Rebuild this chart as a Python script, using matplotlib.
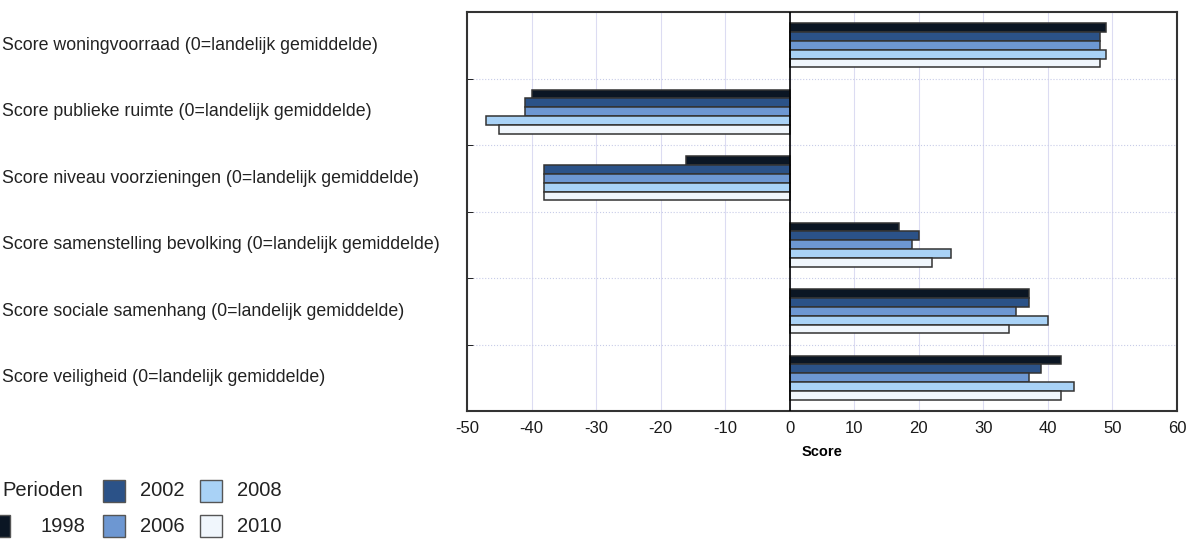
import matplotlib.pyplot as plt
import numpy as np
from matplotlib.patches import Rectangle

plt.rcParams['font.family'] = ['Liberation Sans', 'DejaVu Sans']
plt.rcParams['axes.unicode_minus'] = False

categories = [
    "Score woningvoorraad (0=landelijk gemiddelde)",
    "Score publieke ruimte (0=landelijk gemiddelde)",
    "Score niveau voorzieningen (0=landelijk gemiddelde)",
    "Score samenstelling bevolking (0=landelijk gemiddelde)",
    "Score sociale samenhang (0=landelijk gemiddelde)",
    "Score veiligheid (0=landelijk gemiddelde)",
]
periods = ["1998", "2002", "2006", "2008", "2010"]
v1998 = [49, -40, -16, 17, 37, 42]
v2002 = [48, -41, -38, 20, 37, 39]
v2006 = [48, -41, -38, 19, 35, 37]
v2008 = [49, -47, -38, 25, 40, 44]
v2010 = [48, -45, -38, 22, 34, 42]
series = [v1998, v2002, v2006, v2008, v2010]
colors = ['#0b1624', '#2b5288', '#6d97d2', '#a9d2f6', '#f0f6fc']

fig = plt.figure(figsize=(11.88, 5.39), dpi=100)
ax = fig.add_axes([467/1188, 1 - 411/539, 710/1188, 399/539])

n = len(categories)
ypos = np.arange(n)
bh = 0.133
for i, (vals, c) in enumerate(zip(series, colors)):
    offs = (i - 2) * bh
    ax.barh(ypos + offs, vals, height=bh, color=c, edgecolor='#333333',
            linewidth=1.1, zorder=3)

ax.axvline(0, color='black', linewidth=1.2, zorder=4)
ax.set_xlim(-50, 60)
ax.set_ylim(n - 0.5, -0.5)
ax.set_xticks(np.arange(-50, 61, 10))
ax.tick_params(axis='x', labelsize=12, length=0, pad=7, labelcolor='#1a1a1a')
ax.set_yticks(np.arange(0.5, n - 0.5, 1), minor=True)
ax.set_yticks([])
ax.tick_params(axis='y', which='minor', length=4, direction='in')
ax.grid(axis='x', color='#dcdcf2', linewidth=0.8, zorder=0)
ax.grid(axis='y', which='minor', color='#c8cce8', linewidth=0.8,
        linestyle=':', zorder=0)
for s in ax.spines.values():
    s.set_linewidth(1.5)
    s.set_color('#333333')
ax.set_xlabel("Score", fontsize=10.5, fontweight='bold', labelpad=7)

# category labels on the left side of the figure
for y, lab in zip(ypos, categories):
    yf = ax.transData.transform((0, y))[1] / fig.bbox.height
    fig.text(0.002, yf, lab, ha='left', va='center', fontsize=12.8,
             color='#222222')

# legend
fig.text(0.002, 1 - 491/539, "Perioden", ha='left', va='center',
         fontsize=14.5, color='#222222')
slots = [(1, 1), (2, 0), (2, 1), (3, 0), (3, 1)]
sw_x = [None, -12, 103, 200]
tx_x = [None, 40, 140, 237]
row_y = [491, 526]
for lab, c, (cx, ry) in zip(periods, colors, slots):
    yc = row_y[ry]
    fig.add_artist(Rectangle((sw_x[cx] / 1188, 1 - (yc + 11) / 539),
                             22 / 1188, 22 / 539, transform=fig.transFigure,
                             facecolor=c, edgecolor='#555555', linewidth=1))
    fig.text(tx_x[cx] / 1188, 1 - yc / 539, lab, ha='left', va='center',
             fontsize=14.5, color='#222222')

fig.savefig("out.png", dpi=100)
